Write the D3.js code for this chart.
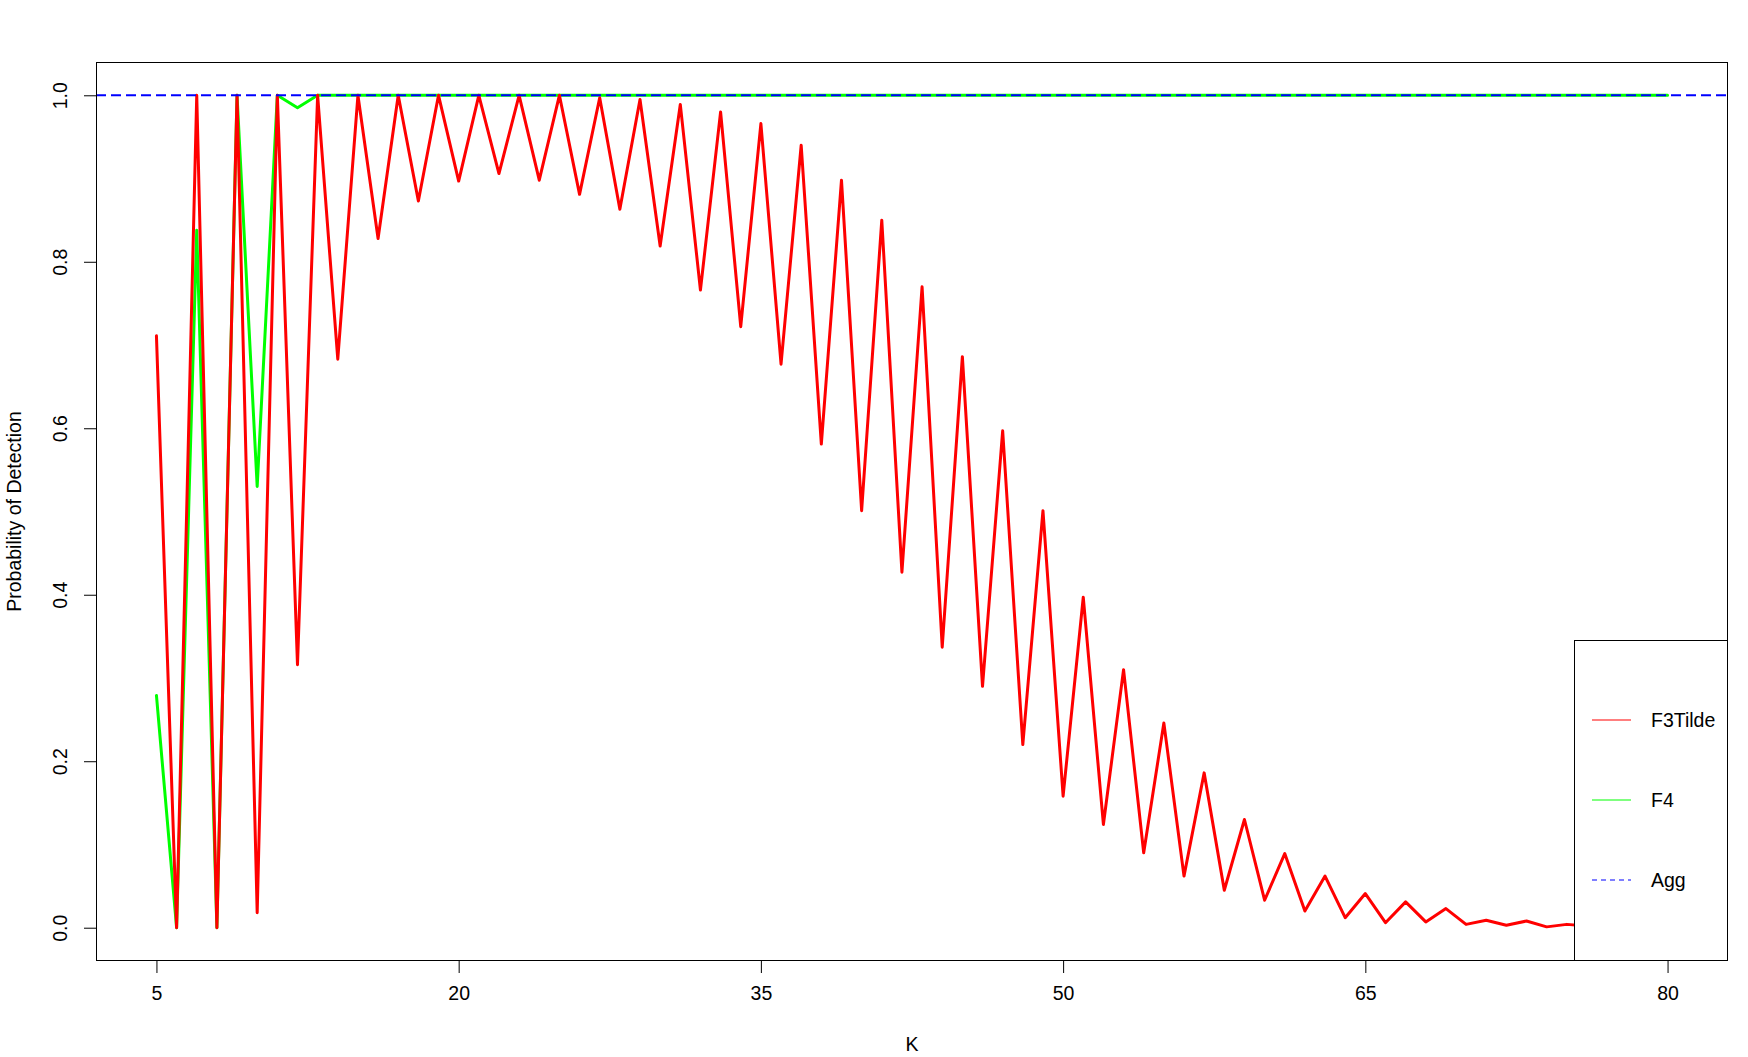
<!DOCTYPE html>
<html>
<head>
<meta charset="utf-8">
<script src="https://cdn.jsdelivr.net/npm/d3@7"></script>
<style>
  html, body { margin: 0; padding: 0; background: #fff; }
  svg { display: block; }
  text { font-family: "Liberation Sans", Arial, Helvetica, sans-serif; fill: #000; }
</style>
</head>
<body>
<svg id="chart" width="1748" height="1057"></svg>
<script>
// ---- data ----
const kValues = d3.range(5, 81);
const f3Tilde = [
  0.711, 0, 1, 0, 1, 0.018, 1, 0.316, 1, 0.683,
  1, 0.828, 1, 0.873, 1, 0.897, 1, 0.906, 1, 0.898,
  1, 0.881, 0.997, 0.863, 0.995, 0.819, 0.989, 0.766, 0.980, 0.722,
  0.966, 0.677, 0.940, 0.581, 0.898, 0.501, 0.850, 0.427, 0.770, 0.337,
  0.686, 0.290, 0.597, 0.220, 0.501, 0.158, 0.397, 0.124, 0.310, 0.090,
  0.246, 0.062, 0.186, 0.045, 0.130, 0.033, 0.089, 0.020, 0.062, 0.012,
  0.041, 0.006, 0.031, 0.007, 0.023, 0.004, 0.009, 0.003, 0.008, 0.001,
  0.004, 0.002, 0.003, 0.001, 0.001, 0.000
];
const f4 = [
  0.279, 0, 0.838, 0, 1, 0.530, 1, 0.985, 1, 1,
  1, 1, 1, 1, 1, 1, 1, 1, 1, 1,
  1, 1, 1, 1, 1, 1, 1, 1, 1, 1,
  1, 1, 1, 1, 1, 1, 1, 1, 1, 1,
  1, 1, 1, 1, 1, 1, 1, 1, 1, 1,
  1, 1, 1, 1, 1, 1, 1, 1, 1, 1,
  1, 1, 1, 1, 1, 1, 1, 1, 1, 1,
  1, 1, 1, 1, 1, 1
];
const aggLevel = 1.0;
const xTicks = [5, 20, 35, 50, 65, 80];
const yTicks = [0.0, 0.2, 0.4, 0.6, 0.8, 1.0];
const legendLabels = ["F3Tilde", "F4", "Agg"];
const seriesColors = ["#FF0000", "#00FF00", "#0000FF"];

// ---- layout ----
const L = 96, R = 1728, T = 62, B = 961;
const FS = "19.5px";
const svg = d3.select("#chart");

const xPad = (80 - 5) * 0.04, yPad = 0.04;
const x = d3.scaleLinear().domain([5 - xPad, 80 + xPad]).range([L, R]);
const y = d3.scaleLinear().domain([0 - yPad, 1 + yPad]).range([B, T]);

const defs = svg.append("defs");
defs.append("clipPath").attr("id", "plotclip")
  .append("rect").attr("x", L).attr("y", T).attr("width", R - L).attr("height", B - T);

const plot = svg.append("g").attr("clip-path", "url(#plotclip)");

const line = d3.line().x(d => x(d[0])).y(d => y(d[1]));

plot.append("path")
  .datum(kValues.map((k, i) => [k, f4[i]]))
  .attr("d", line)
  .attr("fill", "none").attr("stroke", seriesColors[1])
  .attr("stroke-width", 3).attr("stroke-linejoin", "round").attr("stroke-linecap", "round");

plot.append("path")
  .datum(kValues.map((k, i) => [k, f3Tilde[i]]))
  .attr("d", line)
  .attr("fill", "none").attr("stroke", seriesColors[0])
  .attr("stroke-width", 3).attr("stroke-linejoin", "round").attr("stroke-linecap", "round");

plot.append("line")
  .attr("x1", L).attr("x2", R)
  .attr("y1", y(aggLevel)).attr("y2", y(aggLevel))
  .attr("stroke", seriesColors[2]).attr("stroke-width", 2)
  .attr("stroke-dasharray", "10,5");

// ---- axes ----
const xAxis = d3.axisBottom(x).tickValues(xTicks).tickSize(12).tickPadding(13)
  .tickFormat(d3.format("d"));
const gx = svg.append("g").attr("transform", `translate(0,${B})`).call(xAxis);
gx.select(".domain").remove();
gx.selectAll("line").attr("stroke", "#000").attr("stroke-width", 1);
gx.selectAll("text").style("font-size", FS)
  .style("font-family", '"Liberation Sans", Arial, sans-serif');

const yAxis = d3.axisLeft(y).tickValues(yTicks).tickSize(12).tickFormat(d3.format(".1f"));
const gy = svg.append("g").attr("transform", `translate(${L},0)`).call(yAxis);
gy.select(".domain").remove();
gy.selectAll("line").attr("stroke", "#000").attr("stroke-width", 1);
gy.selectAll(".tick text")
  .style("font-size", FS)
  .style("font-family", '"Liberation Sans", Arial, sans-serif')
  .attr("x", 0).attr("y", 0).attr("dy", "0")
  .attr("text-anchor", "middle")
  .attr("transform", "translate(-29,0) rotate(-90)");

// plot box
svg.append("rect")
  .attr("x", L + 0.5).attr("y", T + 0.5)
  .attr("width", R - L - 1).attr("height", B - T - 1)
  .attr("fill", "none").attr("stroke", "#000").attr("stroke-width", 1);

// axis titles
svg.append("text").attr("x", (L + R) / 2).attr("y", 1051)
  .attr("text-anchor", "middle").style("font-size", FS).text("K");
svg.append("text")
  .attr("transform", `translate(21,${(T + B) / 2}) rotate(-90)`)
  .attr("text-anchor", "middle").style("font-size", FS)
  .text("Probability of Detection");

// ---- legend ----
const lg = svg.append("g");
lg.append("rect")
  .attr("x", 1574.5).attr("y", 640.5).attr("width", R - 1574 - 1).attr("height", B - 640 - 1)
  .attr("fill", "#fff").attr("stroke", "#000").attr("stroke-width", 1);
const legendY = [720, 800, 880];
legendLabels.forEach((lab, i) => {
  lg.append("line")
    .attr("x1", 1592).attr("x2", 1631)
    .attr("y1", legendY[i]).attr("y2", legendY[i])
    .attr("stroke", seriesColors[i]).attr("stroke-width", 1.2)
    .attr("stroke-dasharray", i === 2 ? "5,4" : null);
  lg.append("text")
    .attr("x", 1651).attr("y", legendY[i]).attr("dy", "0.36em")
    .style("font-size", FS).text(lab);
});
</script>
</body>
</html>
